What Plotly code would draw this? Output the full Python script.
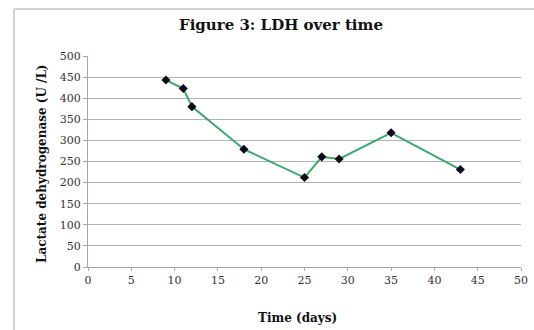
import plotly.graph_objects as go

days = [9, 11, 12, 18, 25, 27, 29, 35, 43]
ldh = [443, 423, 380, 279, 212, 261, 256, 318, 231]
x_ticks = [0, 5, 10, 15, 20, 25, 30, 35, 40, 45, 50]
y_ticks = [0, 50, 100, 150, 200, 250, 300, 350, 400, 450, 500]

W, H = 534, 330
L, R, T, B = 88, 13, 56, 63
pw, ph = W - L - R, H - T - B

def px_to_paper_x(px):
    return (px - L) / pw

def px_to_paper_y(py):
    return (H - B - py) / ph

serif = "DejaVu Serif"

fig = go.Figure()
fig.add_trace(go.Scatter(
    x=days, y=ldh, mode="lines+markers",
    line=dict(color="#3aa96a", width=2),
    marker=dict(symbol="diamond", color="#0b0b1a", size=7),
    showlegend=False, cliponaxis=False,
))

fig.update_layout(
    width=W, height=H,
    margin=dict(l=L, r=R, t=T, b=B, autoexpand=False),
    paper_bgcolor="white", plot_bgcolor="white",
    title=dict(text="<b>Figure 3: LDH over time</b>", x=281 / W, xanchor="center",
               y=1 - 25 / H, yanchor="middle", yref="container",
               font=dict(family=serif, size=15, color="#111111")),
    xaxis=dict(range=[0, 50], tickvals=x_ticks, ticktext=[str(v) for v in x_ticks],
               automargin=False,
               showgrid=False, zeroline=False, showline=True, linecolor="#a6a6a6", linewidth=1,
               ticks="outside", ticklen=3, tickcolor="#a6a6a6",
               tickfont=dict(family=serif, size=11, color="#333333")),
    yaxis=dict(range=[0, 500], tickvals=y_ticks, ticktext=[str(v) for v in y_ticks],
               automargin=False,
               showgrid=True, gridcolor="#b3b3b3", gridwidth=1, zeroline=False,
               showline=True, linecolor="#a6a6a6", linewidth=1,
               ticks="outside", ticklen=4, tickcolor="#a6a6a6",
               tickfont=dict(family=serif, size=11, color="#333333")),
    annotations=[
        dict(text="<b>Lactate dehydrogenase (U /L)</b>", textangle=-90,
             x=px_to_paper_x(42), y=px_to_paper_y(164), xref="paper", yref="paper",
             xanchor="center", yanchor="middle", showarrow=False,
             font=dict(family=serif, size=12, color="#111111")),
        dict(text="<b>Time (days)</b>",
             x=px_to_paper_x(297), y=px_to_paper_y(318), xref="paper", yref="paper",
             xanchor="center", yanchor="middle", showarrow=False,
             font=dict(family=serif, size=12, color="#111111")),
    ],
    shapes=[
        dict(type="line", xref="paper", yref="paper",
             x0=px_to_paper_x(14), x1=px_to_paper_x(540),
             y0=px_to_paper_y(9), y1=px_to_paper_y(9),
             line=dict(color="#d2d2d2", width=2)),
        dict(type="line", xref="paper", yref="paper",
             x0=px_to_paper_x(14), x1=px_to_paper_x(14),
             y0=px_to_paper_y(9), y1=px_to_paper_y(340),
             line=dict(color="#d2d2d2", width=2)),
    ],
)

fig.write_html("out.html",
               config={"displayModeBar": False},
               post_script="document.body.style.margin='0';document.body.style.padding='0';document.body.style.overflow='hidden';")
